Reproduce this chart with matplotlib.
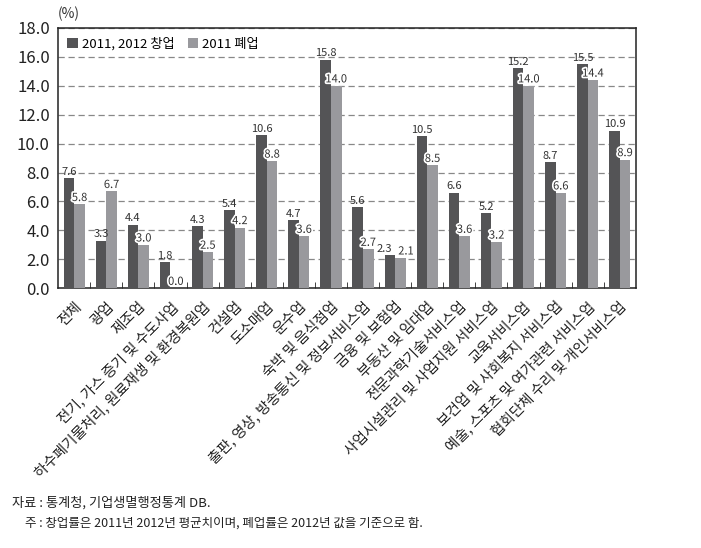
import numpy as np
import matplotlib
matplotlib.use('Agg')

import matplotlib.pyplot as plt
import matplotlib.patheffects as pe
from matplotlib.ticker import FixedLocator

plt.rcParams['font.family'] = ['Noto Sans CJK KR', 'DejaVu Sans']

categories = [
    '전체', '광업', '제조업', '전기, 가스 증기 및 수도사업',
    '하수폐기물처리, 원료재생 및 환경복원업', '건설업', '도소매업', '운수업',
    '숙박 및 음식점업', '출판, 영상, 방송통신 및 정보서비스업', '금융 및 보험업',
    '부동산 및 임대업', '전문과학기술서비스업', '사업시설관리 및 사업지원 서비스업',
    '교육서비스업', '보건업 및 사회복지 서비스업', '예술, 스포츠 및 여가관련 서비스업',
    '협회단체 수리 및 개인서비스업',
]
startup = [7.6, 3.3, 4.4, 1.8, 4.3, 5.4, 10.6, 4.7, 15.8,
           5.6, 2.3, 10.5, 6.6, 5.2, 15.2, 8.7, 15.5, 10.9]
closure = [5.8, 6.7, 3.0, 0.0, 2.5, 4.2, 8.8, 3.6, 14.0,
           2.7, 2.1, 8.5, 3.6, 3.2, 14.0, 6.6, 14.4, 8.9]
series_names = ['2011, 2012 창업', '2011 폐업']
yticks = np.arange(0, 18.1, 2.0)

DARK = '#545456'
LIGHT = '#99999d'

fig = plt.figure(figsize=(7.01, 5.48), dpi=100)
ax = fig.add_axes([0.083, 0.474, 0.824, 0.475])

x = np.arange(len(categories))
w = 0.33
b1 = ax.bar(x - w / 2, startup, w, color=DARK, label=series_names[0], zorder=3)
b2 = ax.bar(x + w / 2, closure, w, color=LIGHT, label=series_names[1], zorder=3)

# value labels; push the pair apart when both bars are almost equal height
halo = [pe.withStroke(linewidth=2.5, foreground='white')]
for r1, r2, v1, v2 in zip(b1, b2, startup, closure):
    dx = 4 if abs(v1 - v2) < 0.8 else 0
    ax.annotate(f'{v1:.1f}', (r1.get_x() + r1.get_width() / 2, v1),
                xytext=(-dx, 1), textcoords='offset points',
                ha='center', va='bottom', fontsize=8, color='#333333', zorder=4)
    ax.annotate(f'{v2:.1f}', (r2.get_x() + r2.get_width() / 2, v2),
                xytext=(dx, 1), textcoords='offset points',
                ha='center', va='bottom', fontsize=8, color='#333333', zorder=4,
                path_effects=halo)

ax.set_xlim(-0.5, len(categories) - 0.5)
ax.set_ylim(0, 18)
ax.set_yticks(yticks)
ax.set_yticklabels([f'{t:.1f}' for t in yticks], fontsize=12, color='#222222')
ax.set_xticks(x)
ax.set_xticklabels(categories, rotation=45, ha='right', va='top',
                   rotation_mode='anchor', fontsize=10.5, color='#222222')
ax.tick_params(axis='x', which='major', length=0, pad=8)
ax.xaxis.set_minor_locator(FixedLocator(np.arange(0.5, len(categories) - 1, 1.0)))
ax.tick_params(axis='x', which='minor', direction='in', length=4, color='#222222')
ax.tick_params(axis='y', length=0, pad=6)

ax.yaxis.grid(True, linestyle=(0, (5, 3)), color='#888888', linewidth=0.9, zorder=0)
for s in ax.spines.values():
    s.set_linewidth(1.1)
    s.set_color('#222222')

ax.text(-0.5, 18.5, '(%)', fontsize=10, color='#333333', ha='left', va='bottom')

leg = ax.legend(loc='upper left', ncol=2, frameon=False, fontsize=9.5,
                handlelength=0.8, handleheight=0.8, handletextpad=0.3,
                columnspacing=1.0, borderaxespad=0.3)

fig.text(0.017, 0.082, '자료 : 통계청, 기업생멸행정통계 DB.', fontsize=9.5,
         color='#222222', va='center')
fig.text(0.036, 0.046, '주 : 창업률은 2011년 2012년 평균치이며, 폐업률은 2012년 값을 기준으로 함.',
         fontsize=9, color='#222222', va='center')

fig.savefig('out.png', dpi=100)
